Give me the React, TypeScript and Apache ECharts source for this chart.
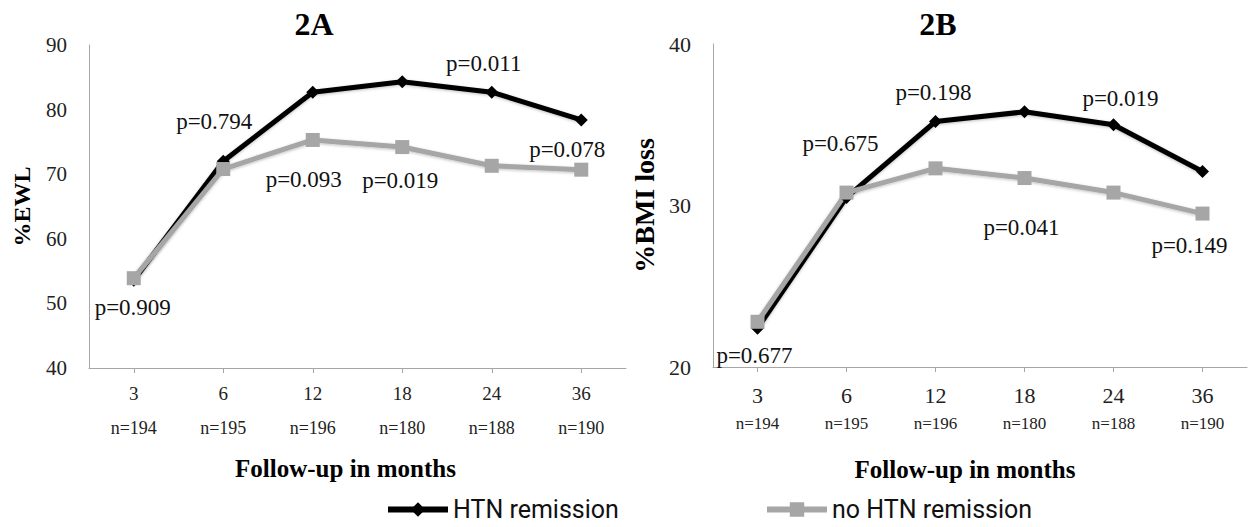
import React, { useEffect, useRef } from "react";
import * as echarts from "echarts";

// ---- data ----
const months = ["3", "6", "12", "18", "24", "36"];
const nCounts = ["n=194", "n=195", "n=196", "n=180", "n=188", "n=190"];
const ewlRemission = [53.6, 72.0, 82.7, 84.3, 82.7, 78.4];
const ewlNoRemission = [53.9, 70.8, 75.3, 74.2, 71.3, 70.7];
const bmiRemission = [22.4, 30.5, 35.2, 35.8, 35.0, 32.1];
const bmiNoRemission = [22.8, 30.8, 32.3, 31.7, 30.8, 29.5];
const ewlPValues = ["p=0.909", "p=0.794", "p=0.093", "p=0.019", "p=0.011", "p=0.078"];
const bmiPValues = ["p=0.677", "p=0.675", "p=0.198", "p=0.041", "p=0.019", "p=0.149"];
const ewlTicks = { min: 40, max: 90, interval: 10 };
const bmiTicks = { min: 20, max: 40, interval: 10 };

// ---- annotation layout (anchor series + pixel offset) ----
const ewlPLayout = [
  { on: "no", dx: -1, dy: 29 },
  { on: "yes", dx: -9, dy: -40 },
  { on: "no", dx: -9, dy: 40 },
  { on: "no", dx: -2, dy: 33 },
  { on: "yes", dx: -8, dy: -29 },
  { on: "no", dx: -14, dy: -20 },
];
const bmiPLayout = [
  { on: "no", dx: -3, dy: 34 },
  { on: "no", dx: -6, dy: -49 },
  { on: "yes", dx: -2, dy: -29 },
  { on: "no", dx: -3, dy: 49 },
  { on: "yes", dx: 7, dy: -26 },
  { on: "no", dx: -13, dy: 32 },
];

const SERIF = "'Liberation Serif', 'Times New Roman', serif";
const AXIS_COLOR = "#a6a6a6";
const BLACK = "#000000";
const GRAY = "#a6a6a6";

function marks(texts: string[], layout: any[], which: string, values: number[]) {
  const data: any[] = [];
  layout.forEach((l, i) => {
    if (l.on === which) {
      data.push({
        name: texts[i],
        coord: [i, values[i]],
        label: { offset: [l.dx, l.dy] },
      });
    }
  });
  return {
    symbol: "circle",
    symbolSize: 0,
    silent: true,
    label: {
      show: true,
      position: "inside",
      formatter: "{b}",
      fontFamily: SERIF,
      fontSize: 23,
      color: "#111",
    },
    data,
  };
}

function seriesPair(gi: number, yes: number[], no: number[], texts: string[], layout: any[]) {
  const shadow = { shadowColor: "rgba(0,0,0,0.25)", shadowBlur: 3, shadowOffsetY: 1 };
  return [
    {
      name: "HTN remission",
      type: "line",
      xAxisIndex: gi,
      yAxisIndex: gi,
      data: yes,
      symbol: "diamond",
      symbolSize: 13,
      itemStyle: { color: BLACK },
      lineStyle: { color: BLACK, width: 5, ...shadow },
      markPoint: marks(texts, layout, "yes", yes),
    },
    {
      name: "no HTN remission",
      type: "line",
      xAxisIndex: gi,
      yAxisIndex: gi,
      data: no,
      symbol: "rect",
      symbolSize: 14,
      itemStyle: { color: GRAY },
      lineStyle: { color: GRAY, width: 5, ...shadow },
      markPoint: marks(texts, layout, "no", no),
    },
  ];
}

function xAxis(gi: number, st: any) {
  return {
    type: "category",
    gridIndex: gi,
    data: months,
    boundaryGap: true,
    axisLine: { lineStyle: { color: AXIS_COLOR, width: 1 } },
    axisTick: { show: true, alignWithLabel: true, length: 5, lineStyle: { color: AXIS_COLOR } },
    axisLabel: {
      margin: st.margin,
      formatter: (v: string, i: number) => `{a|${v}}\n{b|${nCounts[i]}}`,
      rich: {
        a: { fontFamily: SERIF, fontSize: st.aSize, color: "#222", lineHeight: st.aLh },
        b: { fontFamily: SERIF, fontSize: st.bSize, color: "#222", lineHeight: st.bLh },
      },
    },
    name: "Follow-up in months",
    nameLocation: "middle",
    nameGap: st.nameGap,
    nameTextStyle: {
      fontFamily: SERIF,
      fontWeight: "bold",
      fontSize: 25,
      color: "#000",
      padding: [0, st.namePadRight, 0, 0],
    },
    splitLine: { show: false },
  };
}

function yAxis(gi: number, t: any, name: string, labelSize: number, nameSize: number) {
  return {
    type: "value",
    gridIndex: gi,
    min: t.min,
    max: t.max,
    interval: t.interval,
    axisLine: { show: true, lineStyle: { color: AXIS_COLOR, width: 1 } },
    axisTick: { show: false },
    splitLine: { show: false },
    axisLabel: { fontFamily: SERIF, fontSize: labelSize, color: "#222", margin: 22 },
    name,
    nameLocation: "middle",
    nameGap: 55,
    nameTextStyle: { fontFamily: SERIF, fontWeight: "bold", fontSize: nameSize, color: "#000" },
  };
}

const legendText = { fontFamily: "Roboto, 'Noto Sans', sans-serif", fontSize: 25, color: "#111" };

export default function App() {
  const ref = useRef<HTMLDivElement>(null);
  useEffect(() => {
    if (!ref.current) return;
    const chart = echarts.init(ref.current, null, { renderer: "svg" });
    const titleStyle = (text: string) => ({
      text,
      fontFamily: SERIF,
      fontWeight: "bold",
      fontSize: 32,
      fill: "#000",
      textAlign: "center",
      textVerticalAlign: "middle",
    });
    chart.setOption({
      animation: false,
      backgroundColor: "#ffffff",
      grid: [
        { left: 89, top: 45, width: 537, height: 323 },
        { left: 713, top: 44, width: 534, height: 323 },
      ],
      xAxis: [
        xAxis(0, { margin: 8, aSize: 19, aLh: 34, bSize: 18, bLh: 36, nameGap: 88, namePadRight: 24 }),
        xAxis(1, { margin: 13, aSize: 22, aLh: 30, bSize: 17, bLh: 26, nameGap: 90, namePadRight: 30 }),
      ],
      yAxis: [
        yAxis(0, ewlTicks, "%EWL", 21, 24),
        yAxis(1, bmiTicks, "%BMI loss", 22, 28),
      ],
      legend: [
        {
          left: 385,
          top: 497,
          padding: 0,
          itemWidth: 60,
          itemHeight: 18,
          lineStyle: { width: 6 },
          textStyle: legendText,
          data: ["HTN remission"],
        },
        {
          left: 764,
          top: 497,
          padding: 0,
          itemWidth: 60,
          itemHeight: 18,
          lineStyle: { width: 6 },
          textStyle: legendText,
          data: ["no HTN remission"],
        },
      ],
      graphic: [
        { type: "text", x: 314, y: 24, style: titleStyle("2A") },
        { type: "text", x: 938, y: 24, style: titleStyle("2B") },
      ],
      series: [
        ...seriesPair(0, ewlRemission, ewlNoRemission, ewlPValues, ewlPLayout),
        ...seriesPair(1, bmiRemission, bmiNoRemission, bmiPValues, bmiPLayout),
      ],
    });
    return () => chart.dispose();
  }, []);
  return (
    <div
      ref={ref}
      style={{ position: "fixed", left: 0, top: 0, width: 1252, height: 527, background: "#fff" }}
    />
  );
}
